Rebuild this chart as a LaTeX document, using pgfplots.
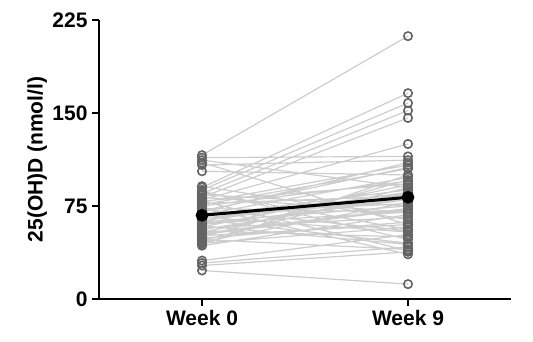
\documentclass[border=0pt]{standalone}
\usepackage{pgfplots}
\pgfplotsset{compat=1.18}
\usepackage{fontspec}
\setmainfont{Liberation Sans}
\definecolor{pairline}{RGB}{205,205,205}
\definecolor{pairmark}{RGB}{100,100,100}
\begin{document}
\begin{tikzpicture}
\useasboundingbox (-99pt,-43pt) rectangle (434pt,299pt);
\begin{axis}[
  scale only axis, width=412pt, height=279pt,
  at={(0,0)}, anchor=south west,
  xmin=-0.5, xmax=1.5, ymin=0, ymax=225,
  axis x line*=bottom, axis y line*=left,
  axis line style={line width=2.6pt, black},
  xtick={0,1}, xticklabels={Week 0, Week 9},
  ytick={0,75,150,225},
  tick style={line width=2.2pt, black},
  tick align=outside, major tick length=7pt,
  /pgf/number format/assume math mode=true,
  ticklabel style={font=\fontsize{21}{24}\selectfont\bfseries},
  yticklabel style={xshift=-1pt},
  xticklabel style={yshift=-1pt},
  ylabel={25(OH)D (nmol/l)},
  ylabel style={font=\fontsize{21}{24}\selectfont\bfseries, at={(axis description cs:-0.15,0.5)}, anchor=center},
  clip=false,
  unbounded coords=jump,
]
\addplot[color=pairline, line width=1.2pt, mark=o, mark size=4.2pt,
  mark options={draw=pairmark, line width=1.6pt, fill=none}] table[x=x, y=y] {
x y
0 116
1 212
nan nan
0 114
1 115
nan nan
0 112
1 90
nan nan
0 110
1 60
nan nan
0 108
1 112
nan nan
0 103
1 100
nan nan
0 90
1 166
nan nan
0 88
1 158
nan nan
0 85
1 152
nan nan
0 82
1 146
nan nan
0 80
1 125
nan nan
0 78
1 108
nan nan
0 76
1 105
nan nan
0 75
1 95
nan nan
0 73
1 70
nan nan
0 72
1 55
nan nan
0 70
1 110
nan nan
0 68
1 98
nan nan
0 67
1 88
nan nan
0 65
1 80
nan nan
0 64
1 45
nan nan
0 62
1 75
nan nan
0 60
1 80
nan nan
0 58
1 92
nan nan
0 57
1 66
nan nan
0 55
1 50
nan nan
0 54
1 85
nan nan
0 52
1 72
nan nan
0 50
1 96
nan nan
0 49
1 62
nan nan
0 48
1 40
nan nan
0 46
1 78
nan nan
0 45
1 58
nan nan
0 44
1 100
nan nan
0 43
1 68
nan nan
0 31
1 52
nan nan
0 29
1 42
nan nan
0 27
1 38
nan nan
0 23
1 12
nan nan
0 91
1 64
nan nan
0 87
1 48
nan nan
0 84
1 75
nan nan
0 79
1 93
nan nan
0 77
1 83
nan nan
0 74
1 36
nan nan
0 71
1 106
nan nan
0 69
1 77
nan nan
0 66
1 54
nan nan
0 63
1 86
nan nan
0 61
1 70
nan nan
0 59
1 44
nan nan
0 56
1 82
nan nan
0 53
1 73
nan nan
0 51
1 60
nan nan
0 47
1 90
nan nan
0 82
1 70
nan nan
0 86
1 56
nan nan
0 79
1 39
nan nan
0 65
1 85
nan nan
0 60
1 80
};
\addplot[black, line width=3pt, mark=*, mark size=4.8pt] coordinates {(0,67.5) (1,82)};
\end{axis}
\end{tikzpicture}
\end{document}
